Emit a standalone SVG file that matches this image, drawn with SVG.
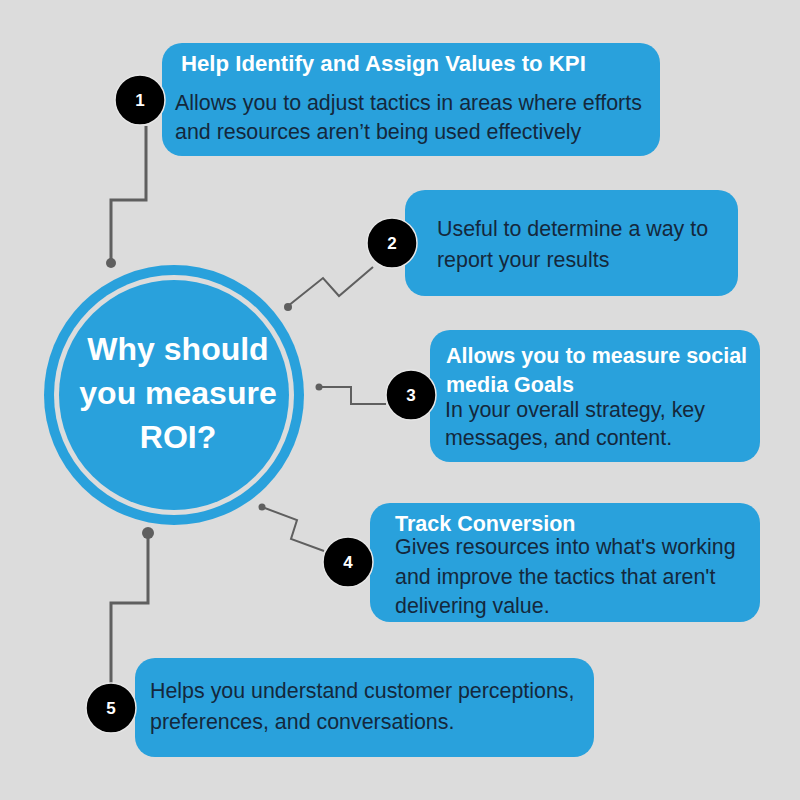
<svg xmlns="http://www.w3.org/2000/svg" width="800" height="800" viewBox="0 0 800 800">
<style>
.box{fill:#29a1dc}
.num{fill:#000;stroke:#e6e6e6;stroke-width:1.5}
.numt{fill:#fff;font-family:"Liberation Sans",Arial,sans-serif;font-weight:bold;font-size:17px;text-anchor:middle}
.ttl{fill:#fff;font-family:"Liberation Sans",Arial,sans-serif;font-weight:bold;font-size:21.5px}
.body{fill:#14283c;font-family:"Liberation Sans",Arial,sans-serif;font-size:21.4px}
.ln{fill:none;stroke:#5f5f5f;stroke-width:3;stroke-linejoin:miter}
.ln2{fill:none;stroke:#5f5f5f;stroke-width:2}
.dot{fill:#5f5f5f}
.hub{fill:#fff;font-family:"Liberation Sans",Arial,sans-serif;font-weight:bold;font-size:32px;text-anchor:middle}
</style>
<rect width="800" height="800" fill="#dcdcdc"/>
<g id="connectors">
<polyline class="ln" points="146,126 146,200 111,200 111,262"/>
<circle class="dot" cx="111" cy="263" r="5"/>
<polyline class="ln2" points="373,267 339,296 323,278 288,306"/>
<circle class="dot" cx="288" cy="307" r="4"/>
<polyline class="ln2" points="319,387 351,387 351,404 386,404"/>
<circle class="dot" cx="319" cy="387" r="3.5"/>
<polyline class="ln2" points="262,507 297,520 291,539 324,551"/>
<circle class="dot" cx="262" cy="507" r="3.5"/>
<polyline class="ln" points="148,533 148,603 111,603 111,684"/>
<circle class="dot" cx="148" cy="533" r="6"/>
</g>
<g id="hub">
<circle cx="174" cy="395" r="130" fill="#29a1dc"/>
<circle cx="174" cy="395" r="120" fill="#dcdcdc"/>
<circle cx="174" cy="395" r="115" fill="#29a1dc"/>
<text class="hub" x="178" y="360">Why should</text>
<text class="hub" x="178" y="404">you measure</text>
<text class="hub" x="178" y="448">ROI?</text>
</g>
<g id="node1">
<rect class="box" x="162" y="43" width="498" height="113" rx="20"/>
<circle class="num" cx="140" cy="100" r="25"/>
<text class="numt" x="140" y="106">1</text>
<text class="ttl" x="181" y="71" style="font-size:22.2px">Help Identify and Assign Values to KPI</text>
<text class="body" x="175" y="110">Allows you to adjust tactics in areas where efforts</text>
<text class="body" x="175" y="139">and resources aren’t being used effectively</text>
</g>
<g id="node2">
<rect class="box" x="405" y="190" width="333" height="106" rx="20"/>
<circle class="num" cx="392" cy="243" r="25"/>
<text class="numt" x="392" y="249">2</text>
<text class="body" x="437" y="236">Useful to determine a way to</text>
<text class="body" x="437" y="267">report your results</text>
</g>
<g id="node3">
<rect class="box" x="430" y="330" width="330" height="132" rx="20"/>
<circle class="num" cx="411" cy="395" r="25"/>
<text class="numt" x="411" y="401">3</text>
<text class="ttl" x="446" y="363">Allows you to measure social</text>
<text class="ttl" x="446" y="392">media Goals</text>
<text class="body" x="445" y="417">In your overall strategy, key</text>
<text class="body" x="445" y="445">messages, and content.</text>
</g>
<g id="node4">
<rect class="box" x="370" y="503" width="390" height="119" rx="20"/>
<circle class="num" cx="348" cy="562" r="25"/>
<text class="numt" x="348" y="568">4</text>
<text class="ttl" x="395" y="531">Track Conversion</text>
<text class="body" x="395" y="554">Gives resources into what's working</text>
<text class="body" x="395" y="584">and improve the tactics that aren't</text>
<text class="body" x="395" y="613">delivering value.</text>
</g>
<g id="node5">
<rect class="box" x="135" y="658" width="459" height="99" rx="20"/>
<circle class="num" cx="111" cy="708" r="25"/>
<text class="numt" x="111" y="714">5</text>
<text class="body" x="150" y="698">Helps you understand customer perceptions,</text>
<text class="body" x="150" y="729">preferences, and conversations.</text>
</g>
</svg>
